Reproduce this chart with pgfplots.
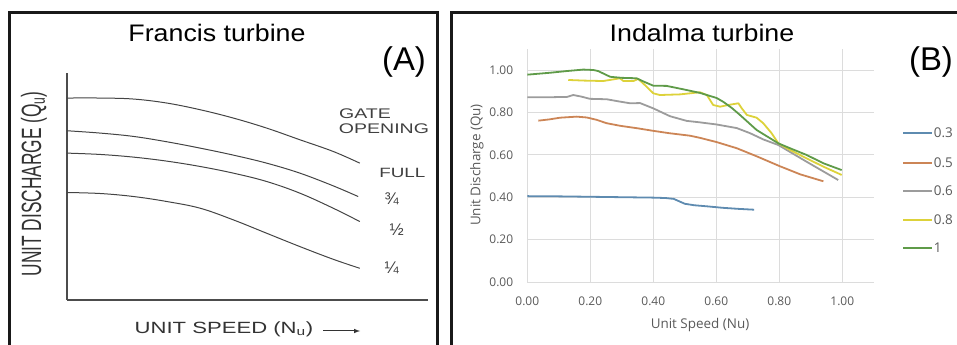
\documentclass[border=0pt]{standalone}
\usepackage{fontspec}
\setmainfont{Liberation Sans}
\newfontfamily\osans{Open Sans}
\usepackage{pgfplots}
\pgfplotsset{compat=1.18}
\definecolor{cblue}{HTML}{5E8BB0}
\definecolor{corange}{HTML}{CC8556}
\definecolor{cgray}{HTML}{9C9C9C}
\definecolor{cyellow}{HTML}{DDD23A}
\definecolor{cgreen}{HTML}{5F9B49}
\definecolor{txtgray}{HTML}{595959}
\definecolor{gridgray}{HTML}{DCDCDC}
\definecolor{sketch}{HTML}{444444}
\tikzset{legtext/.style={anchor=west, inner sep=0pt, text=txtgray, font=\osans\fontsize{13.5}{15}\selectfont}}
\begin{document}
\begin{tikzpicture}
\useasboundingbox (0bp,0bp) rectangle (957bp,345bp);
\begin{scope}[x=1bp,y=1bp]
\clip (0,0) rectangle (957,345);
\draw[line width=3bp, black!90] (9.2,332.5) rectangle (437,-15);
\draw[line width=3bp, black!90] (451.7,332.5) rectangle (990,-15);
\end{scope}

% ---------------- Panel A ----------------
\begin{axis}[at={(67bp,45bp)}, anchor=south west, scale only axis,
  width=361bp, height=227bp,
  xmin=0, xmax=10.85, ymin=0, ymax=6.8,
  axis x line=bottom, axis y line=left,
  axis line style={-, draw=black!70, line width=1.1bp},
  xtick=\empty, ytick=\empty, clip=false]
\addplot[sketch, line width=1bp, smooth, tension=0.6] coordinates {
 (0,6.05) (1,6.05) (2,6.02) (3,5.9) (4,5.7) (5,5.45) (6,5.15) (7,4.8) (8,4.45) (8.8,4.1)};
\addplot[sketch, line width=1bp, smooth, tension=0.6] coordinates {
 (0,5.07) (1,5.0) (2,4.9) (3,4.74) (4,4.55) (5,4.34) (6,4.1) (7,3.8) (8,3.42) (8.75,3.1)};
\addplot[sketch, line width=1bp, smooth, tension=0.6] coordinates {
 (0,4.4) (1,4.36) (2,4.28) (3,4.16) (4,4.0) (5,3.8) (6,3.55) (7,3.2) (8,2.75) (8.8,2.35)};
\addplot[sketch, line width=1bp, smooth, tension=0.6] coordinates {
 (0,3.22) (1,3.19) (2,3.1) (3,2.95) (4,2.75) (5,2.4) (6,2.0) (7,1.6) (8,1.22) (8.8,0.95)};
\end{axis}

% ---------------- Panel B ----------------
\begin{axis}[at={(527.3bp,63bp)}, anchor=south west, scale only axis,
  width=346.5bp, height=233.2bp,
  xmin=0, xmax=1.1, ymin=0, ymax=1.1, clip=false,
  xtick={0,0.2,0.4,0.6,0.8,1.0}, ytick={0,0.2,0.4,0.6,0.8,1.0},
  grid=major, major grid style={draw=gridgray, line width=0.8bp},
  axis line style={draw=none}, major tick length=0pt,
  /pgf/number format/assume math mode=true,
  /pgf/number format/fixed, /pgf/number format/fixed zerofill,
  /pgf/number format/precision=2,
  tick label style={font=\osans\fontsize{12}{14}\selectfont, text=txtgray, inner sep=0pt},
  yticklabel style={anchor=east, xshift=-14bp},
  xticklabel style={anchor=north, yshift=-15bp},
  every axis plot/.append style={line width=1.8bp, line join=round, forget plot}]
\addplot[cblue] coordinates {
 (0,0.405) (0.10,0.404) (0.20,0.402) (0.30,0.400) (0.40,0.398) (0.44,0.396) (0.465,0.392)
 (0.48,0.382) (0.50,0.369) (0.53,0.362) (0.57,0.357) (0.62,0.350) (0.67,0.345) (0.72,0.341)};
\addplot[corange] coordinates {
 (0.035,0.761) (0.07,0.767) (0.104,0.775) (0.157,0.780) (0.189,0.776) (0.22,0.765) (0.252,0.749)
 (0.294,0.737) (0.35,0.725) (0.40,0.713) (0.45,0.702) (0.517,0.690) (0.548,0.680) (0.601,0.660)
 (0.665,0.631) (0.728,0.593) (0.802,0.546) (0.866,0.508) (0.94,0.475)};
\addplot[cgray] coordinates {
 (0,0.871) (0.06,0.871) (0.114,0.873) (0.126,0.873) (0.146,0.882) (0.17,0.875) (0.199,0.864)
 (0.252,0.862) (0.29,0.852) (0.326,0.843) (0.358,0.844) (0.40,0.819) (0.453,0.782) (0.506,0.760)
 (0.548,0.753) (0.601,0.743) (0.665,0.726) (0.707,0.702) (0.75,0.672) (0.797,0.646) (0.887,0.567)
 (0.987,0.481)};
\addplot[cyellow] coordinates {
 (0.130,0.953) (0.18,0.950) (0.241,0.948) (0.27,0.955) (0.294,0.961) (0.305,0.948) (0.337,0.948)
 (0.352,0.958) (0.379,0.921) (0.40,0.890) (0.421,0.882) (0.485,0.885) (0.548,0.895) (0.57,0.882)
 (0.59,0.835) (0.612,0.827) (0.638,0.835) (0.67,0.843) (0.681,0.819) (0.697,0.788) (0.728,0.775)
 (0.749,0.749) (0.776,0.701) (0.797,0.654) (0.834,0.623) (0.887,0.583) (0.94,0.544) (0.998,0.505)};
\addplot[cgreen] coordinates {
 (0,0.978) (0.072,0.987) (0.125,0.995) (0.178,1.002) (0.21,1.000) (0.225,0.995) (0.263,0.968)
 (0.30,0.963) (0.347,0.961) (0.37,0.945) (0.40,0.926) (0.442,0.925) (0.495,0.909) (0.548,0.892)
 (0.57,0.882) (0.601,0.868) (0.622,0.850) (0.65,0.820) (0.675,0.788) (0.728,0.717) (0.797,0.654)
 (0.834,0.631) (0.887,0.599) (0.94,0.560) (0.998,0.528)};
% legend keys
\addplot[cblue] coordinates {(1.193,0.703) (1.285,0.703)};
\addplot[corange] coordinates {(1.193,0.561) (1.285,0.561)};
\addplot[cgray] coordinates {(1.193,0.429) (1.285,0.429)};
\addplot[cyellow] coordinates {(1.193,0.292) (1.285,0.292)};
\addplot[cgreen] coordinates {(1.193,0.160) (1.285,0.160)};
\node[legtext] at (axis cs:1.29,0.703) {0.3};
\node[legtext] at (axis cs:1.29,0.561) {0.5};
\node[legtext] at (axis cs:1.29,0.429) {0.6};
\node[legtext] at (axis cs:1.29,0.292) {0.8};
\node[legtext] at (axis cs:1.29,0.160) {1};
\end{axis}

\begin{scope}[x=1bp,y=1bp]
\node[font=\fontsize{24}{28}\selectfont] at (217,312) {\scalebox{1.12}[1]{Francis turbine}};
\node[font=\fontsize{33}{38}\selectfont] at (404,283) {(A)};
\node[rotate=90, text=black!80] at (34,161) {\scalebox{0.62}[1]{\fontsize{28}{30}\selectfont UNIT DISCHARGE (Q\textsubscript{u})}};
\node[text=black!80] at (224,16) {\scalebox{1.36}[1]{\fontsize{16.3}{18}\selectfont UNIT SPEED (N\textsubscript{u})}};
\draw[-latex, black!80, line width=1bp] (323,14) -- (360,14);
\node[text=black!75] at (365,231) {\scalebox{1.4}[1]{\fontsize{14}{16}\selectfont GATE}};
\node[text=black!75] at (384,216.7) {\scalebox{1.4}[1]{\fontsize{14}{16}\selectfont OPENING}};
\node[text=black!75] at (402.3,171.7) {\scalebox{1.4}[1]{\fontsize{13.5}{16}\selectfont FULL}};
\node[text=black!75, font=\fontsize{17}{19}\selectfont] at (391.7,146) {¾};
\node[text=black!75, font=\fontsize{17}{19}\selectfont] at (396.7,115) {½};
\node[text=black!75, font=\fontsize{17}{19}\selectfont] at (391.7,76.7) {¼};
\node[font=\fontsize{24}{28}\selectfont] at (702,312) {\scalebox{1.12}[1]{Indalma turbine}};
\node[font=\fontsize{33}{38}\selectfont] at (931,283) {(B)};
\node[rotate=90, text=txtgray, font=\osans\fontsize{13.5}{16}\selectfont] at (477,180) {Unit Discharge (Qu)};
\node[text=txtgray, font=\osans\fontsize{13.5}{16}\selectfont] at (700,20) {Unit Speed (Nu)};
\end{scope}
\end{tikzpicture}
\end{document}
